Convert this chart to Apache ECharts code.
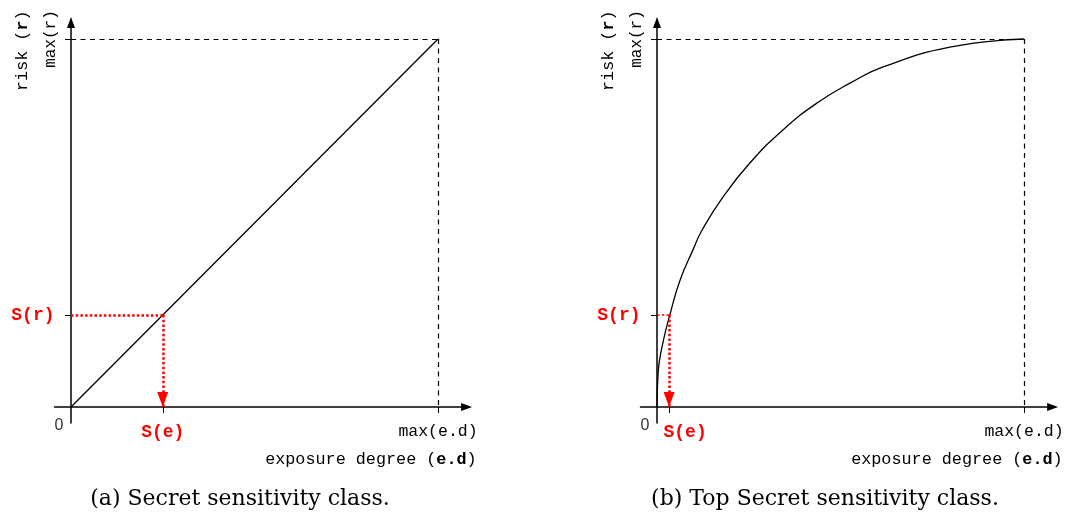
<!DOCTYPE html>
<html><head><meta charset="utf-8">
<script src="https://cdn.jsdelivr.net/npm/echarts@6/dist/echarts.min.js"></script>
<style>html,body{margin:0;padding:0;background:#fff}#c{width:1067px;height:520px}</style>
</head><body><div id="c"></div>
<script>
// ---- data ----
const linearX = [0, 1];
const linearY = [0, 1];
const curveX = [0, 0.003, 0.016, 0.035, 0.063, 0.098, 0.123, 0.180, 0.253, 0.343, 0.436, 0.526, 0.616, 0.798, 1];
const curveY = [0, 0.092, 0.174, 0.25, 0.345, 0.427, 0.481, 0.571, 0.663, 0.753, 0.826, 0.880, 0.924, 0.978, 1];
const maxE = 1, maxR = 1;
const secretS = [0.25, 0.25];      // [S(e), S(r)]
const topSecretS = [0.033, 0.25];  // [S(e), S(r)]
const xTickLabels = ['0', 'S(e)', 'max(e.d)'];
const yTickLabels = ['S(r)', 'max(r)'];
const xNameParts = ['exposure degree (', 'e.d', ')'];
const yNameParts = ['risk (', 'r', ')'];
const captions = ['(a) Secret sensitivity class.', '(b) Top Secret sensitivity class.'];

// ---- layout ----
const xMin = -0.045, xMax = 1.078, yMin = -0.0435, yMax = 1.045;
const unitX = 367, unitY = 368;
const origins = [[71, 407], [657, 407]];
const MONO = '"Liberation Mono", monospace';
const black = '#000', red = '#ff0000';

function gridFor(o) {
  return { left: o[0] + xMin * unitX, top: o[1] - yMax * unitY,
           width: (xMax - xMin) * unitX, height: (yMax - yMin) * unitY,
           containLabel: false, outerBoundsMode: 'none' };
}
const richX = (seShift) => ({
  z: { fontFamily: '"Liberation Sans", Arial, sans-serif', fontSize: 16, color: '#333', padding: [0, 24, 12, 0] },
  s: { fontFamily: MONO, fontSize: 18, fontWeight: 'bold', color: red, padding: [0, 0, 0, seShift] },
  m: { fontFamily: MONO, fontSize: 16.5, color: black }
});
const nameRich = {
  n: { fontFamily: MONO, fontSize: 16.8, color: black },
  b: { fontFamily: MONO, fontSize: 16.8, color: black, fontWeight: 'bold' }
};
function xAxisFor(gi, S, seShift) {
  return {
    type: 'value', gridIndex: gi, min: xMin, max: xMax,
    axisLine: { show: true, onZero: true, symbol: ['none', 'triangle'], symbolSize: [8, 11],
                lineStyle: { color: black, width: 1.5 } },
    axisTick: { show: true, customValues: [S[0], maxE], length: 6, lineStyle: { color: black, width: 1 } },
    axisLabel: { show: true, customValues: [0, S[0], maxE], margin: 9, verticalAlign: 'middle',
      formatter: v => v === 0 ? '{z|' + xTickLabels[0] + '}' : (v === S[0] ? '{s|' + xTickLabels[1] + '}' : '{m|' + xTickLabels[2] + '}'),
      rich: richX(seShift) },
    splitLine: { show: false },
    name: '{n|' + xNameParts[0] + '}{b|' + xNameParts[1] + '}{n|' + xNameParts[2] + '}',
    nameLocation: 'end', nameGap: 10, nameMoveOverlap: false,
    nameTextStyle: { align: 'right', verticalAlign: 'top', padding: [44, 0, 0, 0], rich: nameRich }
  };
}
function yAxesFor(gi, S) {
  return [{
    type: 'value', gridIndex: gi, min: yMin, max: yMax, position: 'left',
    axisLine: { show: true, onZero: true, symbol: ['none', 'triangle'], symbolSize: [8, 11],
                lineStyle: { color: black, width: 1.5 } },
    axisTick: { show: true, customValues: [S[1], maxR], length: 6, lineStyle: { color: black, width: 1 } },
    axisLabel: { show: true, customValues: [S[1]], margin: 0,
      formatter: () => '{s|' + yTickLabels[0] + '}',
      rich: { s: { fontFamily: MONO, fontSize: 18, fontWeight: 'bold', color: red } } },
    splitLine: { show: false },
    name: '{n|' + yNameParts[0] + '}{b|' + yNameParts[1] + '}{n|' + yNameParts[2] + '}',
    nameLocation: 'end', nameRotate: 90, nameGap: 12, nameMoveOverlap: false,
    nameTextStyle: { align: 'right', verticalAlign: 'bottom', padding: [0, 0, 40, 0], rich: nameRich }
  }, {
    type: 'value', gridIndex: gi, min: yMin, max: yMax, position: 'left', offset: xMin * unitX,
    axisLine: { show: false, onZero: false },
    axisTick: { show: false },
    axisLabel: { show: true, customValues: [maxR], rotate: 90, margin: 12,
      formatter: () => yTickLabels[1], fontFamily: MONO, fontSize: 16, color: black },
    splitLine: { show: false }
  }];
}
function guideSeries(xi, yi, S, thinH) {
  const dash = { color: black, width: 1.2, type: [5, 4.5] };
  return {
    type: 'line', xAxisIndex: xi, yAxisIndex: yi, data: [], silent: true,
    markLine: {
      silent: true, symbol: ['none', 'none'], label: { show: false }, animation: false,
      lineStyle: dash,
      data: [
        [{ coord: [0, maxR], lineStyle: dash }, { coord: [maxE, maxR] }],
        [{ coord: [maxE, maxR], lineStyle: dash }, { coord: [maxE, 0] }],
        [{ coord: [0, S[1]], lineStyle: { color: red, width: thinH ? 1.5 : 2.5, type: [2.5, 2.2] } },
         { coord: [S[0], S[1]] }]
      ]
    }
  };
}
function arrowSeries(xi, yi, S) {
  return {
    type: 'line', xAxisIndex: xi, yAxisIndex: yi, data: [], silent: true,
    markLine: {
      silent: true, symbol: ['none', 'triangle'], symbolSize: [11, 15], symbolOffset: [[0, 0], [0, 7.5]],
      label: { show: false }, animation: false,
      lineStyle: { color: red, width: 2.5, type: [2.5, 2.2] },
      itemStyle: { color: red },
      data: [[{ coord: [S[0], S[1]] }, { coord: [S[0], 0] }]]
    }
  };
}

const chart = echarts.init(document.getElementById('c'), null, { renderer: 'canvas' });
chart.setOption({
  animation: false,
  backgroundColor: '#fff',
  grid: [gridFor(origins[0]), gridFor(origins[1])],
  xAxis: [xAxisFor(0, secretS, 0), xAxisFor(1, topSecretS, 32)],
  yAxis: [...yAxesFor(0, secretS), ...yAxesFor(1, topSecretS)],
  series: [
    guideSeries(0, 0, secretS, false),
    arrowSeries(0, 0, secretS),
    { type: 'line', xAxisIndex: 0, yAxisIndex: 0, data: linearX.map((x, i) => [x, linearY[i]]),
      showSymbol: false, symbol: 'none', lineStyle: { color: black, width: 1.3 }, silent: true },
    guideSeries(1, 2, topSecretS, true),
    arrowSeries(1, 2, topSecretS),
    { type: 'line', xAxisIndex: 1, yAxisIndex: 2, data: curveX.map((x, i) => [x, curveY[i]]),
      showSymbol: false, symbol: 'none', smooth: 0.5, lineStyle: { color: black, width: 1.3 }, silent: true }
  ],
  graphic: [
    { type: 'text', x: 240, y: 499, silent: true,
      style: { text: captions[0], fontFamily: '"DejaVu Serif", serif', fontSize: 22, fill: '#000', align: 'center', verticalAlign: 'middle' } },
    { type: 'text', x: 825, y: 499, silent: true,
      style: { text: captions[1], fontFamily: '"DejaVu Serif", serif', fontSize: 22, fill: '#000', align: 'center', verticalAlign: 'middle' } }
  ]
});
</script>
</body></html>
